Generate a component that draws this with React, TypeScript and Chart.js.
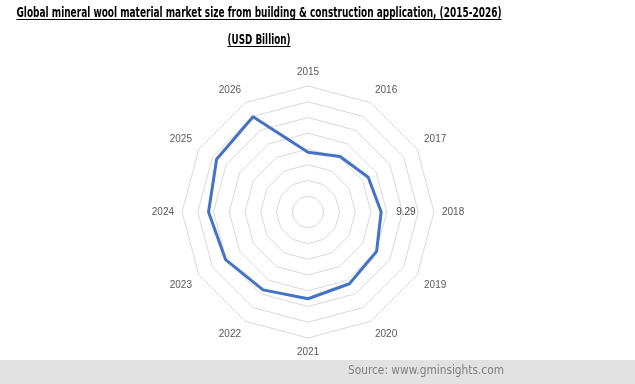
import React, { useEffect, useRef } from "react";
import { Chart, registerables } from "chart.js";

Chart.register(...registerables);

const categories = ["2015", "2016", "2017", "2018", "2019", "2020", "2021", "2022", "2023", "2024", "2025", "2026"];
const marketSize = [7.59, 8.14, 8.83, 9.29, 10.05, 10.52, 11.02, 11.42, 12.09, 12.63, 13.4, 13.96];
const labelledIndex = 3;
const titleLines = [
  "Global mineral wool material market size from building & construction application, (2015-2026)",
  "(USD Billion)",
];
const sourceText = "Source: www.gminsights.com";

const W = 635;
const H = 384;

function drawFitted(
  ctx: CanvasRenderingContext2D,
  text: string,
  x: number,
  y: number,
  targetW: number,
  font: string,
  color: string,
  align: "center" | "left",
  underline: number | null
) {
  ctx.save();
  ctx.font = font;
  ctx.fillStyle = color;
  ctx.textBaseline = "middle";
  ctx.textAlign = align;
  const w = ctx.measureText(text).width;
  const sx = Math.max(0.6, Math.min(1.4, targetW / w));
  ctx.translate(x, y);
  ctx.scale(sx, 1);
  ctx.fillText(text, 0, 0);
  ctx.restore();
  if (underline !== null) {
    const rw = w * sx;
    const x0 = align === "center" ? x - rw / 2 : x;
    ctx.save();
    ctx.strokeStyle = color;
    ctx.lineWidth = 1;
    ctx.beginPath();
    ctx.moveTo(x0, underline + 0.5);
    ctx.lineTo(x0 + rw, underline + 0.5);
    ctx.stroke();
    ctx.restore();
  }
}

const decorPlugin = {
  id: "decor",
  beforeDraw(chart: any) {
    const ctx = chart.ctx;
    ctx.save();
    ctx.fillStyle = "#ffffff";
    ctx.fillRect(0, 0, chart.width, chart.height);
    ctx.restore();
  },
  afterDatasetsDraw(chart: any) {
    const ctx = chart.ctx;
    const el = chart.getDatasetMeta(0).data[labelledIndex];
    if (el) {
      ctx.save();
      ctx.font = '10px "Liberation Sans", Arial, sans-serif';
      ctx.fillStyle = "#404040";
      ctx.textAlign = "left";
      ctx.textBaseline = "middle";
      ctx.fillText(marketSize[labelledIndex].toFixed(2), el.x + 15, el.y);
      ctx.restore();
    }
  },
  afterDraw(chart: any) {
    const ctx = chart.ctx;
    const tFont = 'bold 14px "Liberation Sans Narrow", "DejaVu Sans Condensed", "Liberation Sans", Arial, sans-serif';
    drawFitted(ctx, titleLines[0], 259, 13, 485, tFont, "#000000", "center", 19);
    drawFitted(ctx, titleLines[1], 259, 40, 63, tFont, "#000000", "center", 46);
    ctx.save();
    ctx.fillStyle = "#e2e2e2";
    ctx.fillRect(0, 360, chart.width, chart.height - 360);
    ctx.restore();
    drawFitted(ctx, sourceText, 348, 371, 156, '13px "Liberation Sans Narrow", "DejaVu Sans Condensed", "Liberation Sans", Arial, sans-serif', "#7f7f7f", "left", null);
  },
};

export default function App() {
  const canvasRef = useRef<HTMLCanvasElement | null>(null);

  useEffect(() => {
    document.body.style.margin = "0";
    const canvas = canvasRef.current;
    if (!canvas) return;
    const chart = new Chart(canvas, {
      type: "radar",
      data: {
        labels: categories,
        datasets: [
          {
            label: "Market size",
            data: marketSize,
            borderColor: "#4472c4",
            backgroundColor: "rgba(0,0,0,0)",
            borderWidth: 3,
            fill: false,
            pointRadius: 0,
            pointHoverRadius: 0,
            tension: 0,
            borderJoinStyle: "round",
          },
        ],
      },
      options: {
        responsive: false,
        animation: false,
        devicePixelRatio: 1,
        layout: { padding: { top: 66, bottom: 26, left: 0, right: 18 } },
        plugins: {
          legend: { display: false },
          title: { display: false },
          tooltip: { enabled: false },
        },
        scales: {
          r: {
            min: 0,
            max: 16,
            ticks: { display: false, stepSize: 2 },
            grid: { color: "#d9d9d9", lineWidth: 1 },
            angleLines: { display: false },
            pointLabels: {
              color: "#595959",
              font: { family: '"Liberation Sans", Arial, sans-serif', size: 10 },
              padding: 8,
            },
          },
        },
      },
      plugins: [decorPlugin],
    } as any);
    return () => chart.destroy();
  }, []);

  return (
    <div style={{ width: W, height: H, position: "relative", background: "#fff" }}>
      <canvas ref={canvasRef} width={W} height={H} style={{ display: "block", width: W, height: H }} />
    </div>
  );
}
